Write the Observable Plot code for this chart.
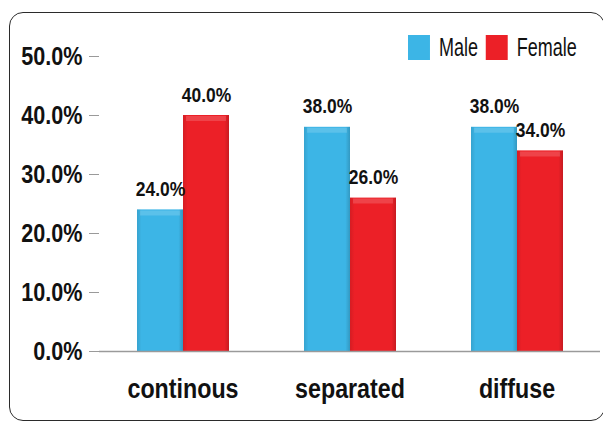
<!DOCTYPE html>
<html>
<head>
<meta charset="utf-8">
<script src="https://cdn.jsdelivr.net/npm/d3@7"></script>
<script src="https://cdn.jsdelivr.net/npm/@observablehq/plot@0.6"></script>
<style>
  html, body { margin: 0; padding: 0; background: #fff; }
  #wrap { position: relative; width: 603px; height: 422px; overflow: hidden; }
  #box { position: absolute; left: 9px; top: 12px; width: 596px; height: 409px;
         border: 1.6px solid #2b2b2b; border-radius: 14px; box-sizing: border-box; }
  #chart { position: absolute; left: 0; top: 0; }
  #legend { position: absolute; left: 408px; top: 33px; width: 360px; white-space: nowrap;
            transform: scaleX(0.72); transform-origin: 0 0; }
  #legend > div { font-family: "Liberation Sans", Arial, sans-serif !important;
                  font-size: 25px !important; color: #111; margin: 0 !important;
                  min-height: 0 !important; white-space: nowrap; display: flex !important;
                  flex-wrap: nowrap !important; align-items: center; }
  #legend [class$="-swatch"] { margin-right: 11px !important; display: inline-flex; align-items: center; }
  #legend [class$="-swatch"] > svg { margin-right: 12.5px !important; }
</style>
</head>
<body>
<svg width="0" height="0" style="position:absolute">
  <defs>
    <!-- side shading for the bevelled bars -->
    <linearGradient id="bevelSides" x1="0" x2="1" y1="0" y2="0">
      <stop offset="0" stop-color="#000" stop-opacity="0.10"/>
      <stop offset="0.1" stop-color="#000" stop-opacity="0"/>
      <stop offset="0.9" stop-color="#000" stop-opacity="0"/>
      <stop offset="1" stop-color="#000" stop-opacity="0.16"/>
    </linearGradient>
  </defs>
</svg>
<div id="wrap">
  <div id="box"></div>
  <div id="chart"></div>
  <div id="legend"></div>
</div>
<script>
const categories = ["continous", "separated", "diffuse"];
const sexes = ["Male", "Female"];
const male = [0.24, 0.38, 0.38];
const female = [0.40, 0.26, 0.34];
const colors = ["#3cb5e6", "#ec2027"];
const yTicks = [0, 0.1, 0.2, 0.3, 0.4, 0.5];

const rows = categories.flatMap((c, i) => [
  {category: c, sex: "Male", value: male[i]},
  {category: c, sex: "Female", value: female[i]}
]);

const pct = d3.format(".1%");

const chart = Plot.plot({
  width: 603,
  height: 422,
  marginLeft: 98,
  marginRight: 3,
  marginTop: 56,
  marginBottom: 71,
  style: {fontFamily: '"Liberation Sans", Arial, sans-serif', fontWeight: "bold",
          background: "transparent", overflow: "visible", color: "#111"},
  fx: {domain: categories, padding: 0, label: null},
  x: {domain: sexes, axis: null, paddingInner: 0, paddingOuter: 0.777},
  y: {domain: [0, 0.5], label: null},
  color: {domain: sexes, range: colors},
  marks: [
    Plot.axisY({ticks: yTicks, tickFormat: ".1%", tickSize: 10, tickPadding: 7,
                fontSize: 26, fill: "#111", stroke: "#9a9a9a", line: true, label: null}),
    Plot.axisFx({anchor: "bottom", tickSize: 0, tickPadding: 27, fontSize: 28, fill: "#111", label: null}),
    Plot.barY(rows, {fx: "category", x: "sex", y: "value", fill: "sex"}),
    Plot.barY(rows, {fx: "category", x: "sex", y: "value", fill: "url(#bevelSides)"}),
    Plot.tickY(rows, {fx: "category", x: "sex", y: "value", stroke: "#fff", strokeOpacity: 0.16,
                      strokeWidth: 5, dy: 3, insetLeft: 3, insetRight: 3}),
    Plot.ruleY([0], {stroke: "#9a9a9a", strokeWidth: 1.5}),
    Plot.text(rows, {fx: "category", x: "sex", y: "value", text: d => pct(d.value),
                     lineAnchor: "bottom", dy: -14, fontSize: 21, fill: "#111"})
  ]
});
document.getElementById("chart").append(chart);

// narrow the bold labels horizontally, keeping their anchors
d3.select(chart).selectAll("text").each(function () {
  const w = this.getComputedTextLength();
  if (w > 0) {
    this.setAttribute("textLength", (w * 0.83).toFixed(1));
    this.setAttribute("lengthAdjust", "spacingAndGlyphs");
  }
});

const legend = Plot.legend({
  color: {domain: sexes, range: colors},
  legend: "swatches",
  swatchWidth: 30.5,
  swatchHeight: 25
});
document.getElementById("legend").append(legend);
</script>
</body>
</html>
